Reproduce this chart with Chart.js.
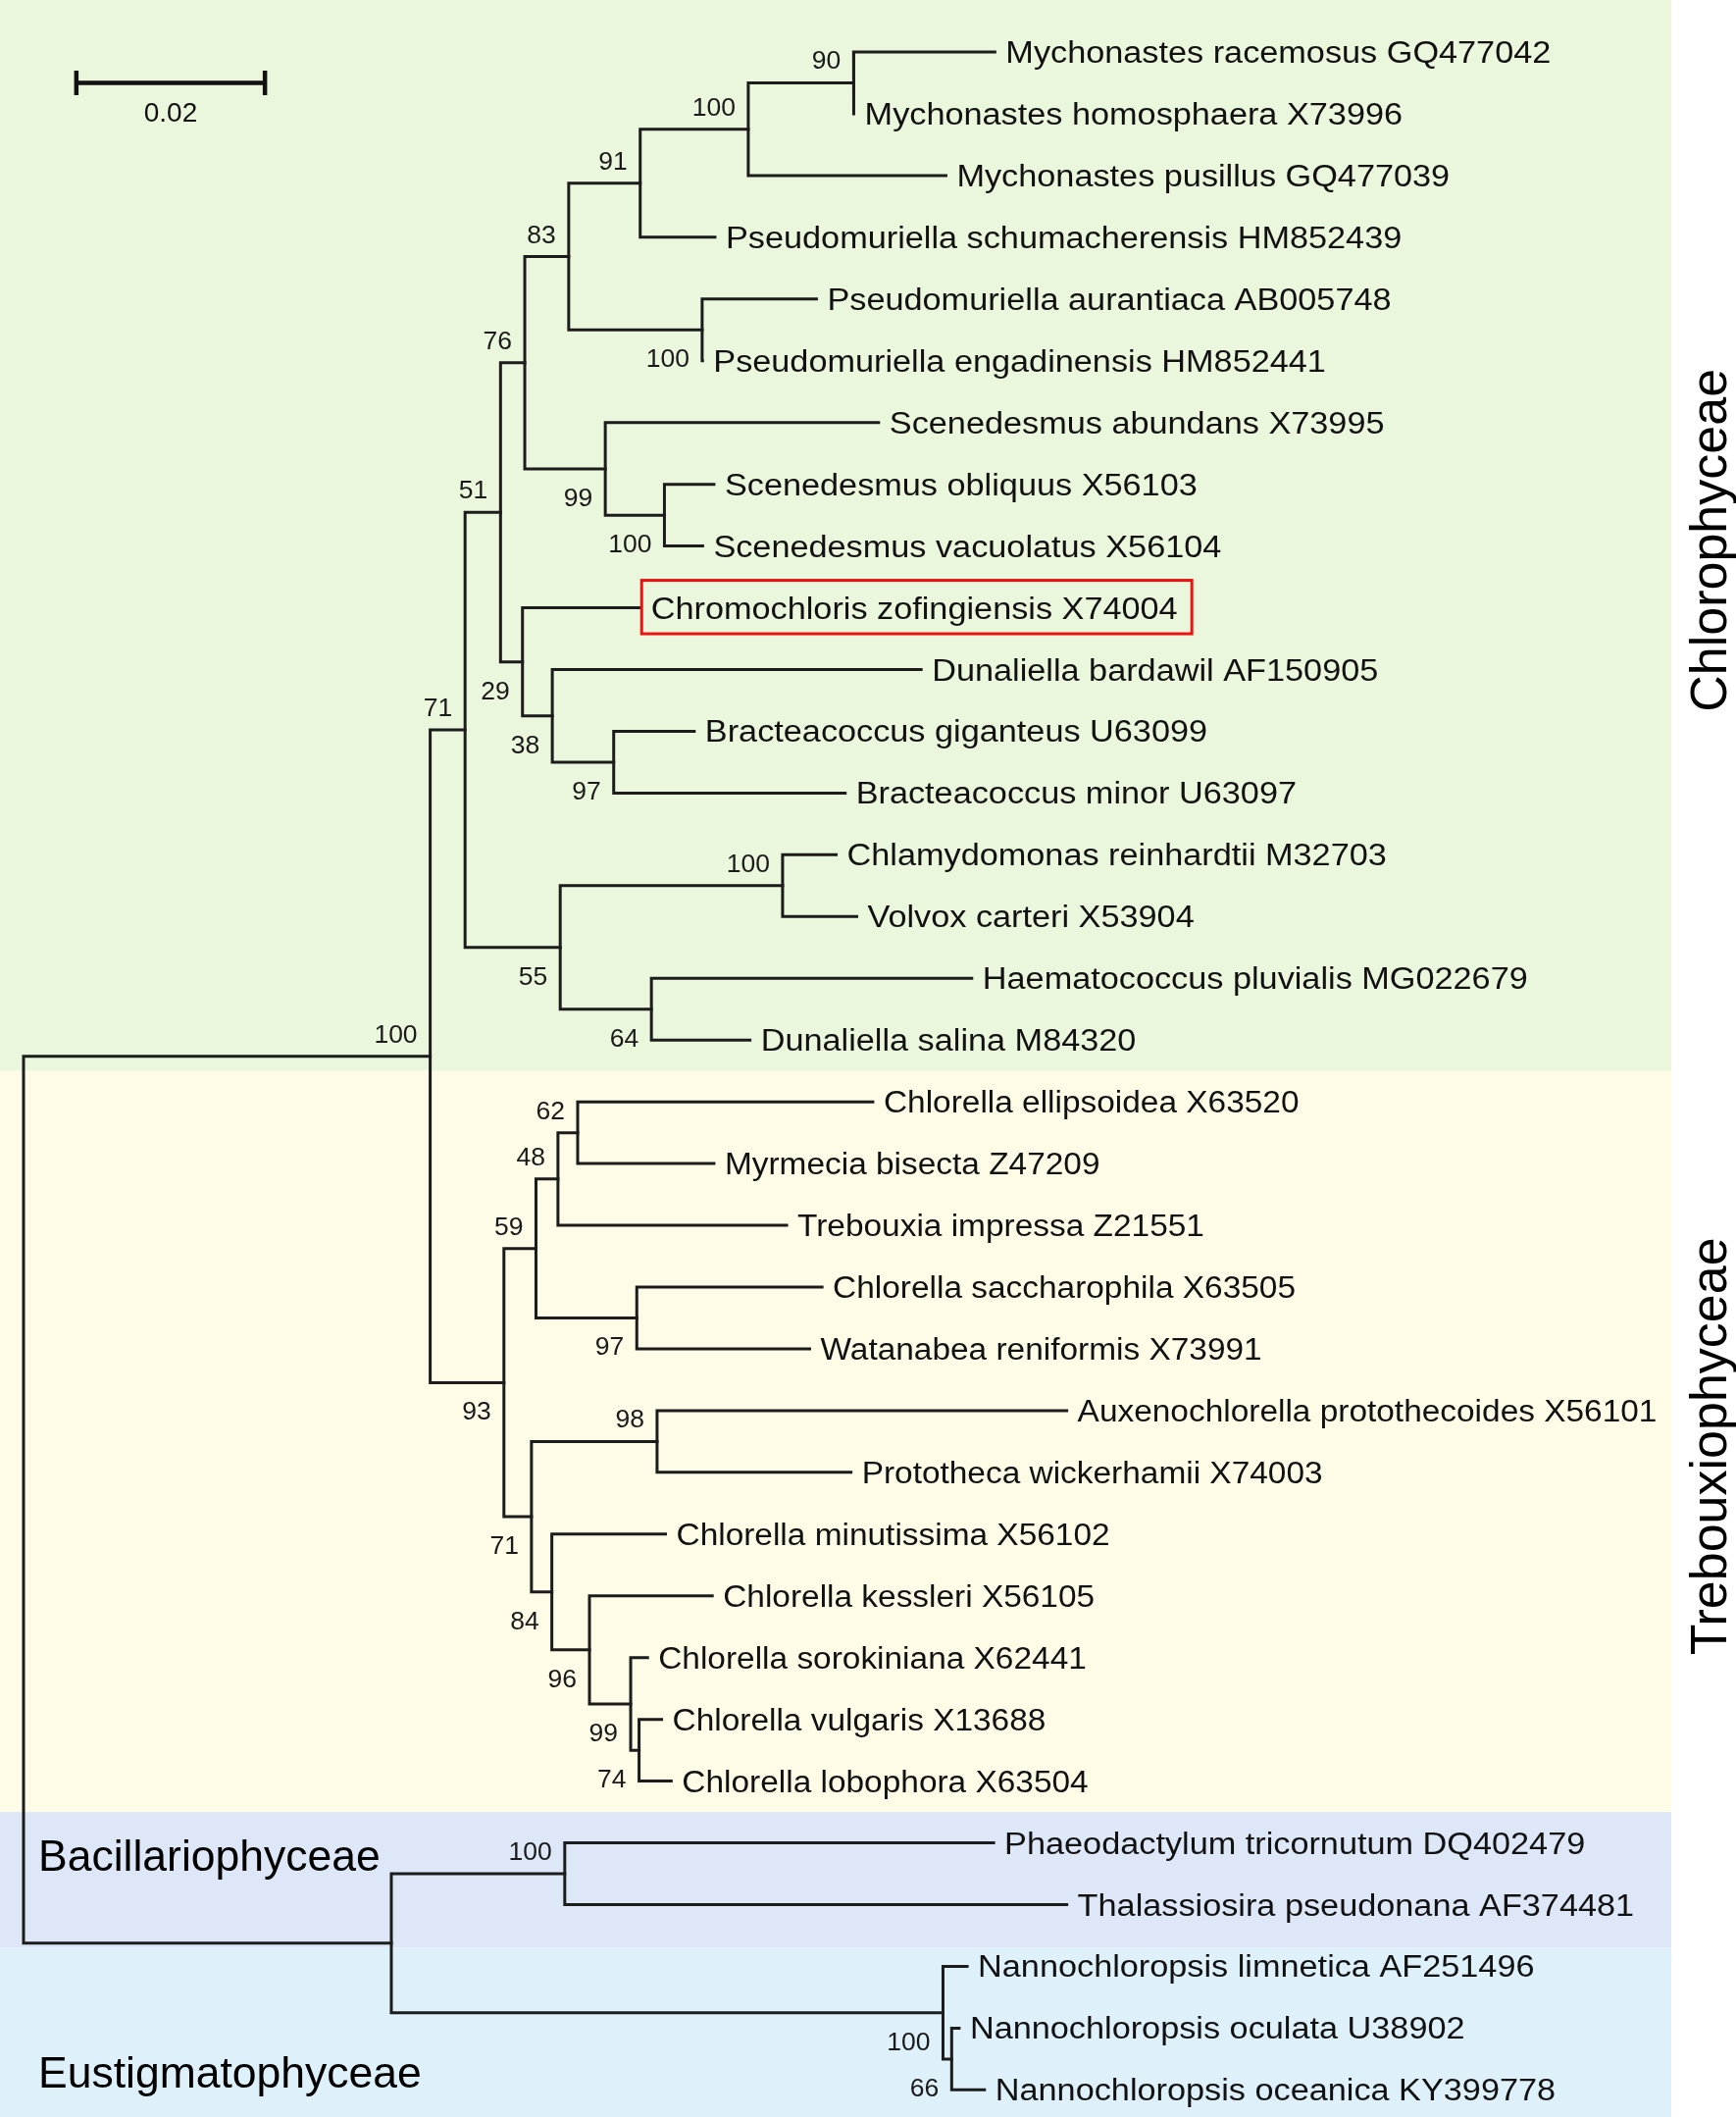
<!DOCTYPE html>
<html>
<head>
<meta charset="utf-8">
<title>Árbol filogenético 18S</title>
<script src="https://cdn.jsdelivr.net/npm/chart.js@4.4.1/dist/chart.umd.min.js"></script>
<style>
  html, body { margin: 0; padding: 0; background: #ffffff; }
  #lienzo { display: block; }
</style>
</head>
<body>
<canvas id="lienzo" width="1770" height="2158"></canvas>
<script>
// Hojas del árbol, de arriba a abajo
const taxa = [
  'Mychonastes racemosus GQ477042',
  'Mychonastes homosphaera X73996',
  'Mychonastes pusillus GQ477039',
  'Pseudomuriella schumacherensis HM852439',
  'Pseudomuriella aurantiaca AB005748',
  'Pseudomuriella engadinensis HM852441',
  'Scenedesmus abundans X73995',
  'Scenedesmus obliquus X56103',
  'Scenedesmus vacuolatus X56104',
  'Chromochloris zofingiensis X74004',
  'Dunaliella bardawil AF150905',
  'Bracteacoccus giganteus U63099',
  'Bracteacoccus minor U63097',
  'Chlamydomonas reinhardtii M32703',
  'Volvox carteri X53904',
  'Haematococcus pluvialis MG022679',
  'Dunaliella salina M84320',
  'Chlorella ellipsoidea X63520',
  'Myrmecia bisecta Z47209',
  'Trebouxia impressa Z21551',
  'Chlorella saccharophila X63505',
  'Watanabea reniformis X73991',
  'Auxenochlorella protothecoides X56101',
  'Prototheca wickerhamii X74003',
  'Chlorella minutissima X56102',
  'Chlorella kessleri X56105',
  'Chlorella sorokiniana X62441',
  'Chlorella vulgaris X13688',
  'Chlorella lobophora X63504',
  'Phaeodactylum tricornutum DQ402479',
  'Thalassiosira pseudonana AF374481',
  'Nannochloropsis limnetica AF251496',
  'Nannochloropsis oculata U38902',
  'Nannochloropsis oceanica KY399778'
];

// Distancia acumulada desde la raíz hasta cada hoja (sustituciones por sitio)
const tipDepth = [
  0.10300, 0.08805, 0.09781, 0.07332, 0.08408, 0.07200, 0.09067, 0.07321, 0.07201,
  0.06539, 0.09518, 0.07112, 0.08712, 0.08617, 0.08835, 0.10055, 0.07703,
  0.09006, 0.07321, 0.08092, 0.08467, 0.08336, 0.11062, 0.08774, 0.06807,
  0.07303, 0.06617, 0.06766, 0.06868,
  0.10287, 0.11062, 0.10006, 0.09921, 0.10190
];

// Nodos internos: clave, profundidad, bootstrap e hijos (número = hoja, texto = nodo)
const nodeKeys = [
  'raiz', 'A', 'C71', 'N51', 'N76', 'N83', 'N91', 'M100', 'M90', 'P100', 'N99', 'S100',
  'N29', 'N38', 'B97', 'N55', 'V100', 'N64',
  'T93', 'N59', 'N48', 'N62', 'W97', 'N71', 'N98', 'N84', 'N96', 'N99c', 'N74',
  'OUT', 'D100', 'E100', 'N66'
];
const nodeDepth = [
  0, 0.04312, 0.04682, 0.05058, 0.05315, 0.05781, 0.06539, 0.07685, 0.08802, 0.07196, 0.06169, 0.06796,
  0.05291, 0.05607, 0.06258, 0.05691, 0.08049, 0.06658,
  0.05094, 0.05434, 0.05667, 0.05876, 0.06503, 0.05386, 0.06718, 0.05602, 0.06001, 0.06438, 0.06527,
  0.03900, 0.05739, 0.09750, 0.09842
];
const nodeSupport = [
  null, 100, 71, 51, 76, 83, 91, 100, 90, 100, 99, 100,
  29, 38, 97, 55, 100, 64,
  93, 59, 48, 62, 97, 71, 98, 84, 96, 99, 74,
  null, 100, 100, 66
];
const nodeKids = [
  ['A', 'OUT'], ['C71', 'T93'], ['N51', 'N55'], ['N76', 'N29'], ['N83', 'N99'], ['N91', 'P100'],
  ['M100', 3], ['M90', 2], [0, 1], [4, 5], [6, 'S100'], [7, 8],
  [9, 'N38'], [10, 'B97'], [11, 12], ['V100', 'N64'], [13, 14], [15, 16],
  ['N59', 'N71'], ['N48', 'W97'], ['N62', 19], [17, 18], [20, 21], ['N98', 'N84'], [22, 23],
  [24, 'N96'], [25, 'N99c'], [26, 'N74'], [27, 28],
  ['D100', 'E100'], [29, 30], [31, 'N66'], [32, 33]
];

// Grupos taxonómicos
const clades = ['Chlorophyceae', 'Trebouxiophyceae', 'Bacillariophyceae', 'Eustigmatophyceae'];
const cladeFirst = [0, 17, 29, 31];
const cladeLast = [16, 28, 30, 33];

const highlighted = 9;
const scaleBarLength = 0.02;
const scaleBarLabel = '0.02';

// --- estilo ---
const TINTA = '#1c1c1c';
const FUENTE = '"Liberation Sans", Arial, sans-serif';
const coloresBanda = ['#eaf7dd', '#fefbe7', '#dde7f8', '#def1fb'];
const bordesBanda = [-0.9, 16.5, 28.5, 30.7, 33.6];
const estiramiento = [1.105, 1.078, 1.105, 1.105];   // ancho del texto por grupo
const ANCHO_BANDA = 1704;

const indice = {};
nodeKeys.forEach((k, i) => { indice[k] = i; });
const padre = {};
nodeKids.forEach((kids, i) => kids.forEach((k, j) => { padre[k] = { nodo: i, orden: j }; }));

const filaDe = (k) => {
  if (typeof k === 'number') return k;
  const kids = nodeKids[indice[k]];
  return (filaDe(kids[0]) + filaDe(kids[kids.length - 1])) / 2;
};
const profDe = (k) => (typeof k === 'number' ? tipDepth[k] : nodeDepth[indice[k]]);
const grupoDe = (hoja) => cladeFirst.findIndex((f, g) => hoja >= f && hoja <= cladeLast[g]);

const ramas = nodeKeys.map((clave, i) => {
  const [a, b] = nodeKids[i];
  return {
    data: [
      { x: profDe(a), y: filaDe(a) },
      { x: nodeDepth[i], y: filaDe(a) },
      { x: nodeDepth[i], y: filaDe(b) },
      { x: profDe(b), y: filaDe(b) }
    ],
    showLine: true,
    borderColor: TINTA,
    borderWidth: 3,
    borderCapStyle: 'square',
    borderJoinStyle: 'miter',
    pointRadius: 0,
    tension: 0,
    fill: false
  };
});

// barra de escala
const xBarra = 0.0056;
const filaBarra = 0.5;
const barra = [
  [{ x: xBarra, y: filaBarra }, { x: xBarra + scaleBarLength, y: filaBarra }],
  [{ x: xBarra, y: filaBarra - 0.2 }, { x: xBarra, y: filaBarra + 0.2 }],
  [{ x: xBarra + scaleBarLength, y: filaBarra - 0.2 }, { x: xBarra + scaleBarLength, y: filaBarra + 0.2 }]
].map((pts) => ({
  data: pts, showLine: true, borderColor: '#111', borderWidth: 4.5,
  pointRadius: 0, tension: 0, fill: false, borderCapStyle: 'butt'
}));

const fondo = {
  id: 'fondo',
  beforeDatasetsDraw(chart) {
    const { ctx, scales: { y } } = chart;
    ctx.save();
    coloresBanda.forEach((c, i) => {
      const arriba = Math.max(0, y.getPixelForValue(bordesBanda[i]));
      const abajo = Math.min(chart.height, y.getPixelForValue(bordesBanda[i + 1]));
      ctx.fillStyle = c;
      ctx.fillRect(0, arriba, ANCHO_BANDA, abajo - arriba);
    });
    ctx.restore();
  }
};

const rotulos = {
  id: 'rotulos',
  afterDatasetsDraw(chart) {
    const { ctx, scales: { x, y } } = chart;
    ctx.save();

    // nombres de especies
    ctx.font = '31px ' + FUENTE;
    ctx.fillStyle = '#111';
    ctx.textAlign = 'left';
    ctx.textBaseline = 'alphabetic';
    taxa.forEach((nombre, i) => {
      const sx = estiramiento[grupoDe(i)];
      const px = x.getPixelForValue(tipDepth[i]) + 11;
      const py = y.getPixelForValue(i);
      ctx.save();
      ctx.translate(px, py + 11);
      ctx.scale(sx, 1);
      ctx.fillText(nombre, 0, 0);
      ctx.restore();
      if (i === highlighted) {
        const w = ctx.measureText(nombre).width * sx;
        ctx.strokeStyle = '#ee1111';
        ctx.lineWidth = 3;
        ctx.strokeRect(px - 9.5, py - 28, w + 24, 54.5);
      }
    });

    // valores de bootstrap
    ctx.font = '26.5px ' + FUENTE;
    ctx.fillStyle = '#1a1a1a';
    ctx.textAlign = 'right';
    nodeKeys.forEach((clave, i) => {
      if (nodeSupport[i] == null) return;
      const p = padre[clave];
      const px = x.getPixelForValue(nodeDepth[i]) - 13;
      const py = y.getPixelForValue(filaDe(clave));
      const base = p.orden === 0 ? py - 14 : py + 38;
      ctx.fillText(String(nodeSupport[i]), px, base);
    });

    // etiqueta de la barra de escala
    ctx.font = '28px ' + FUENTE;
    ctx.textAlign = 'center';
    ctx.fillStyle = '#111';
    const cx = (x.getPixelForValue(xBarra) + x.getPixelForValue(xBarra + scaleBarLength)) / 2;
    ctx.fillText(scaleBarLabel, cx, y.getPixelForValue(filaBarra) + 40);

    // grupos
    ctx.fillStyle = '#000';
    ctx.font = '52px ' + FUENTE;
    ctx.textAlign = 'center';
    [0, 1].forEach((g) => {
      const yc = (Math.max(0, y.getPixelForValue(bordesBanda[g])) + y.getPixelForValue(bordesBanda[g + 1])) / 2 + 5;
      ctx.save();
      ctx.translate(1760, yc);
      ctx.rotate(-Math.PI / 2);
      ctx.fillText(clades[g], 0, 0);
      ctx.restore();
    });
    ctx.font = '44.5px ' + FUENTE;
    ctx.textAlign = 'left';
    ctx.fillText(clades[2], 39, y.getPixelForValue(cladeFirst[2]) + 28);
    ctx.fillText(clades[3], 39, y.getPixelForValue(cladeLast[3]) - 2);

    ctx.restore();
  }
};

const crearArbol = () => {
  const lienzo = document.getElementById('lienzo');
  if (typeof Chart === 'undefined' || !lienzo) return;
  const contexto = lienzo.getContext('2d');
  return new Chart(contexto, {
    type: 'scatter',
    data: { datasets: ramas.concat(barra) },
    options: {
      responsive: false,
      animation: false,
      events: [],
      layout: { padding: 0 },
      plugins: {
        legend: { display: false },
        tooltip: { enabled: false }
      },
      scales: {
        x: { type: 'linear', display: false, min: -0.002496, max: 0.18159 },
        y: { type: 'linear', display: false, reverse: true, min: -0.8419, max: 33.439 }
      }
    },
    plugins: [fondo, rotulos]
  });
};

crearArbol();
</script>
</body>
</html>
